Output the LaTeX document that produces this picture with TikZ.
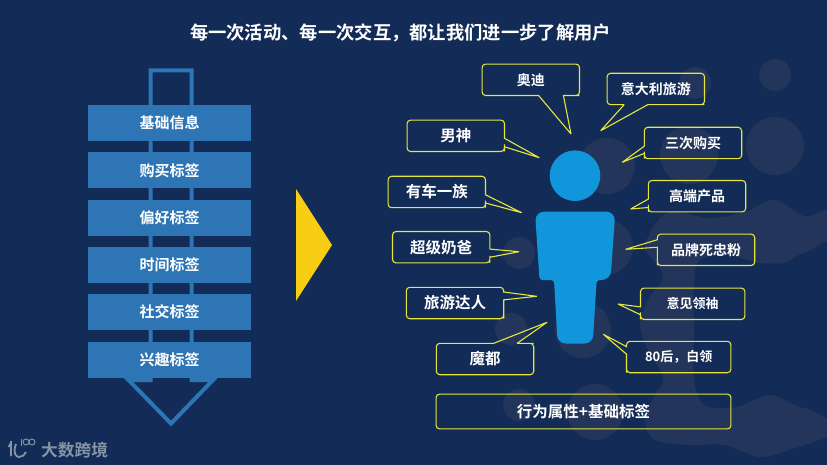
\documentclass[tikz,border=0pt]{standalone}
\usepackage{fontspec}
\setmainfont{Noto Sans CJK SC}[BoldFont={Noto Sans CJK SC Bold}]
\usetikzlibrary{positioning,calc}
\definecolor{pagebg}{HTML}{122C57}
\definecolor{spotc}{HTML}{23355A}
\definecolor{tagblue}{HTML}{2E75B6}
\definecolor{bubyellow}{HTML}{E6E63C}
\definecolor{manblue}{HTML}{1296DB}
\definecolor{arrowyel}{HTML}{F7CE14}
\definecolor{logogray}{HTML}{8794A8}
\tikzset{
  tagbox/.style ={fill=tagblue, minimum width=163pt, minimum height=36pt, inner sep=0pt,
                  text=white, font=\fontsize{15}{15}\selectfont\bfseries},
  bub/.style    ={minimum width=97pt, minimum height=31pt, inner sep=0pt, text=white,
                  font=\fontsize{14}{14}\selectfont\bfseries},
  bigbub/.style ={bub, font=\fontsize{15.5}{15.5}\selectfont\bfseries},
  smallbub/.style={bub, minimum width=104pt, font=\fontsize{13}{13}\selectfont\bfseries},
  bubline/.style={draw=bubyellow, line width=1.1pt, line join=miter, miter limit=2},
  spot/.style   ={fill=spotc},
  logoline/.style={draw=logogray, line width=1.1pt},
}
% outline of a bubble: anchors from the tail side round, then base of the tail and its tip
\newcommand{\bubtail}[8]{%
  \draw[bubline] ($(#1.#2)!#6!(#1.#5)$) [rounded corners=3.5pt] -- (#1.#2) -- (#1.#3) -- (#1.#4) -- (#1.#5)
    -- ($(#1.#5)!3.6pt!(#1.#2)$) [sharp corners] -- ($(#1.#2)!#7!(#1.#5)$) -- (#8) -- cycle;}
\begin{document}
\begin{tikzpicture}[x=1pt, y=-1pt]
\useasboundingbox (0,0) rectangle (827,465);
\clip (0,0) rectangle (827,465);
\fill[pagebg] (0,0) rectangle (827,465);

% background spots
\foreach \x/\y/\r in {775/75/16, 695/83/16, 775/146/29, 689/155/29, 607/166/28, 519/253/16,
    605/247/28, 511/329/16, 583/330/28, 519/405/16, 595/412/28}
  \fill[spot] (\x,\y) circle (\r);
\fill[spot, even odd rule]
  plot[smooth cycle, tension=.6] coordinates {(645,245) (667,213) (710,218) (745,212) (774,200)
    (804,216) (850,224) (850,425) (827,437) (795,448) (760,457) (725,445) (690,445) (655,440)
    (645,420) (655,395) (663,378) (648,350) (640,325) (648,300) (663,278) (655,262)}
  plot[smooth cycle, tension=.6] coordinates {(694,285) (700,260) (730,255) (754,262) (784,263)
    (804,253) (850,248) (850,408) (804,408) (770,395) (737,407) (705,405) (694,380) (694,330)};

% arrow behind the tags
\draw[tagblue, line width=4pt, miter limit=10] (150.5,380) -- (150.5,70.5) -- (191.5,70.5)
  -- (191.5,380) -- (213,380) -- (171,423.5) -- (128.5,380) -- cycle;

\node[tagbox] (t1) at (169.5,123) {基础信息};
\node[tagbox, below=10.9pt of t1] (t2) {购买标签};
\node[tagbox, below=10.9pt of t2] (t3) {偏好标签};
\node[tagbox, below=10.9pt of t3] (t4) {时间标签};
\node[tagbox, below=10.9pt of t4] (t5) {社交标签};
\node[tagbox, below=10.9pt of t5] (t6) {兴趣标签};

\fill[arrowyel] (296,189) -- (332,245) -- (296,301) -- cycle;

\node[font=\fontsize{18.3}{18.3}\selectfont\bfseries, text=white, inner sep=0pt] (title) at (400.5,33)
  {每一次活动、每一次交互，都让我们进一步了解用户};

% the figure
\node[circle, fill=manblue, minimum size=50.6pt, inner sep=0pt] (head) at (575,175.7) {};
\fill[manblue, rounded corners=9pt] (535,211.7) -- (615.3,211.7) -- (610.5,280) [rounded corners=3pt] -- (596.7,280)
  [rounded corners=8pt] -- (592.7,343.5) -- (557.7,343.5) [rounded corners=3pt] -- (554,280) -- (539.5,280)
  [rounded corners=9pt] -- cycle;

% bubbles
\node[bub] (aodi) at (530.8,79.8) {奥迪};
\node[bub] (italy) at (655.8,89) {意大利旅游};
\node[bub] (thrice) at (693,143) {三次购买};
\node[bub] (high) at (697,196.2) {高端产品};
\node[bub] (fans) at (706,249.8) {品牌死忠粉};
\node[bigbub] (male) at (455.8,135.8) {男神};
\node[bigbub] (car) at (436.8,192) {有车一族};
\node[bigbub] (dad) at (441.2,247.2) {超级奶爸};
\node[bigbub] (travel) at (455,303) {旅游达人};
\node[bigbub] (modu) at (485,359) {魔都};
\node[smallbub] (leader) at (692.7,303.8) {意见领袖};
\node[smallbub] (white) at (678.7,357) {80后，白领};
\node[bigbub, minimum width=294.4pt, minimum height=34.4pt] (sum) at (583.5,411.5) {行为属性+基础标签};

\coordinate (aoditip) at (571,134);
\coordinate (italytip) at (600.7,130.7);
\coordinate (thricetip) at (622.3,162.3);
\coordinate (hightip) at (630.7,209);
\coordinate (fanstip) at (625.7,249.3);
\coordinate (maletip) at (539.3,157.7);
\coordinate (cartip) at (521.7,212.7);
\coordinate (dadtip) at (519,251.7);
\coordinate (traveltip) at (536.7,296.3);
\coordinate (modutip) at (547,322.3);
\coordinate (leadertip) at (618,304);
\coordinate (whitetip) at (603.3,334.3);

\bubtail{aodi}{south west}{north west}{north east}{south east}{.58}{.835}{aoditip}
\bubtail{italy}{south west}{north west}{north east}{south east}{.175}{.417}{italytip}
\bubtail{thrice}{north west}{north east}{south east}{south west}{.6}{.83}{thricetip}
\bubtail{high}{north west}{north east}{south east}{south west}{.59}{.86}{hightip}
\bubtail{fans}{north west}{north east}{south east}{south west}{.18}{.42}{fanstip}
\bubtail{male}{north east}{north west}{south west}{south east}{.58}{.85}{maletip}
\bubtail{car}{north east}{north west}{south west}{south east}{.59}{.85}{cartip}
\bubtail{dad}{north east}{north west}{south west}{south east}{.56}{.82}{dadtip}
\bubtail{travel}{north east}{north west}{south west}{south east}{.15}{.4}{traveltip}
\bubtail{modu}{north west}{south west}{south east}{north east}{.59}{.83}{modutip}
\bubtail{leader}{north west}{north east}{south east}{south west}{.6}{.85}{leadertip}
\bubtail{white}{north west}{north east}{south east}{south west}{.17}{.41}{whitetip}
\draw[bubline, rounded corners=3.5pt] (sum.north west) rectangle (sum.south east);

% logo
\draw[logoline, line width=1.8pt] (11,441) -- (11,456) (8.5,447) -- (11,443);
\draw[logoline, line width=1.8pt] (16,444) .. controls (12.5,453) and (16,457) .. (19,457) .. controls (22,457) and (25,455) .. (26,452);
\draw[logoline, line width=.9pt] (21,438.5) -- (21,446);
\draw[logoline, line width=.9pt] (26,442) circle (3) (32,442) circle (3);
\node[font=\fontsize{16.7}{16.7}\selectfont\bfseries, text=logogray, inner sep=0pt, anchor=west] (brand) at (41,450) {大数跨境};
\end{tikzpicture}
\end{document}
